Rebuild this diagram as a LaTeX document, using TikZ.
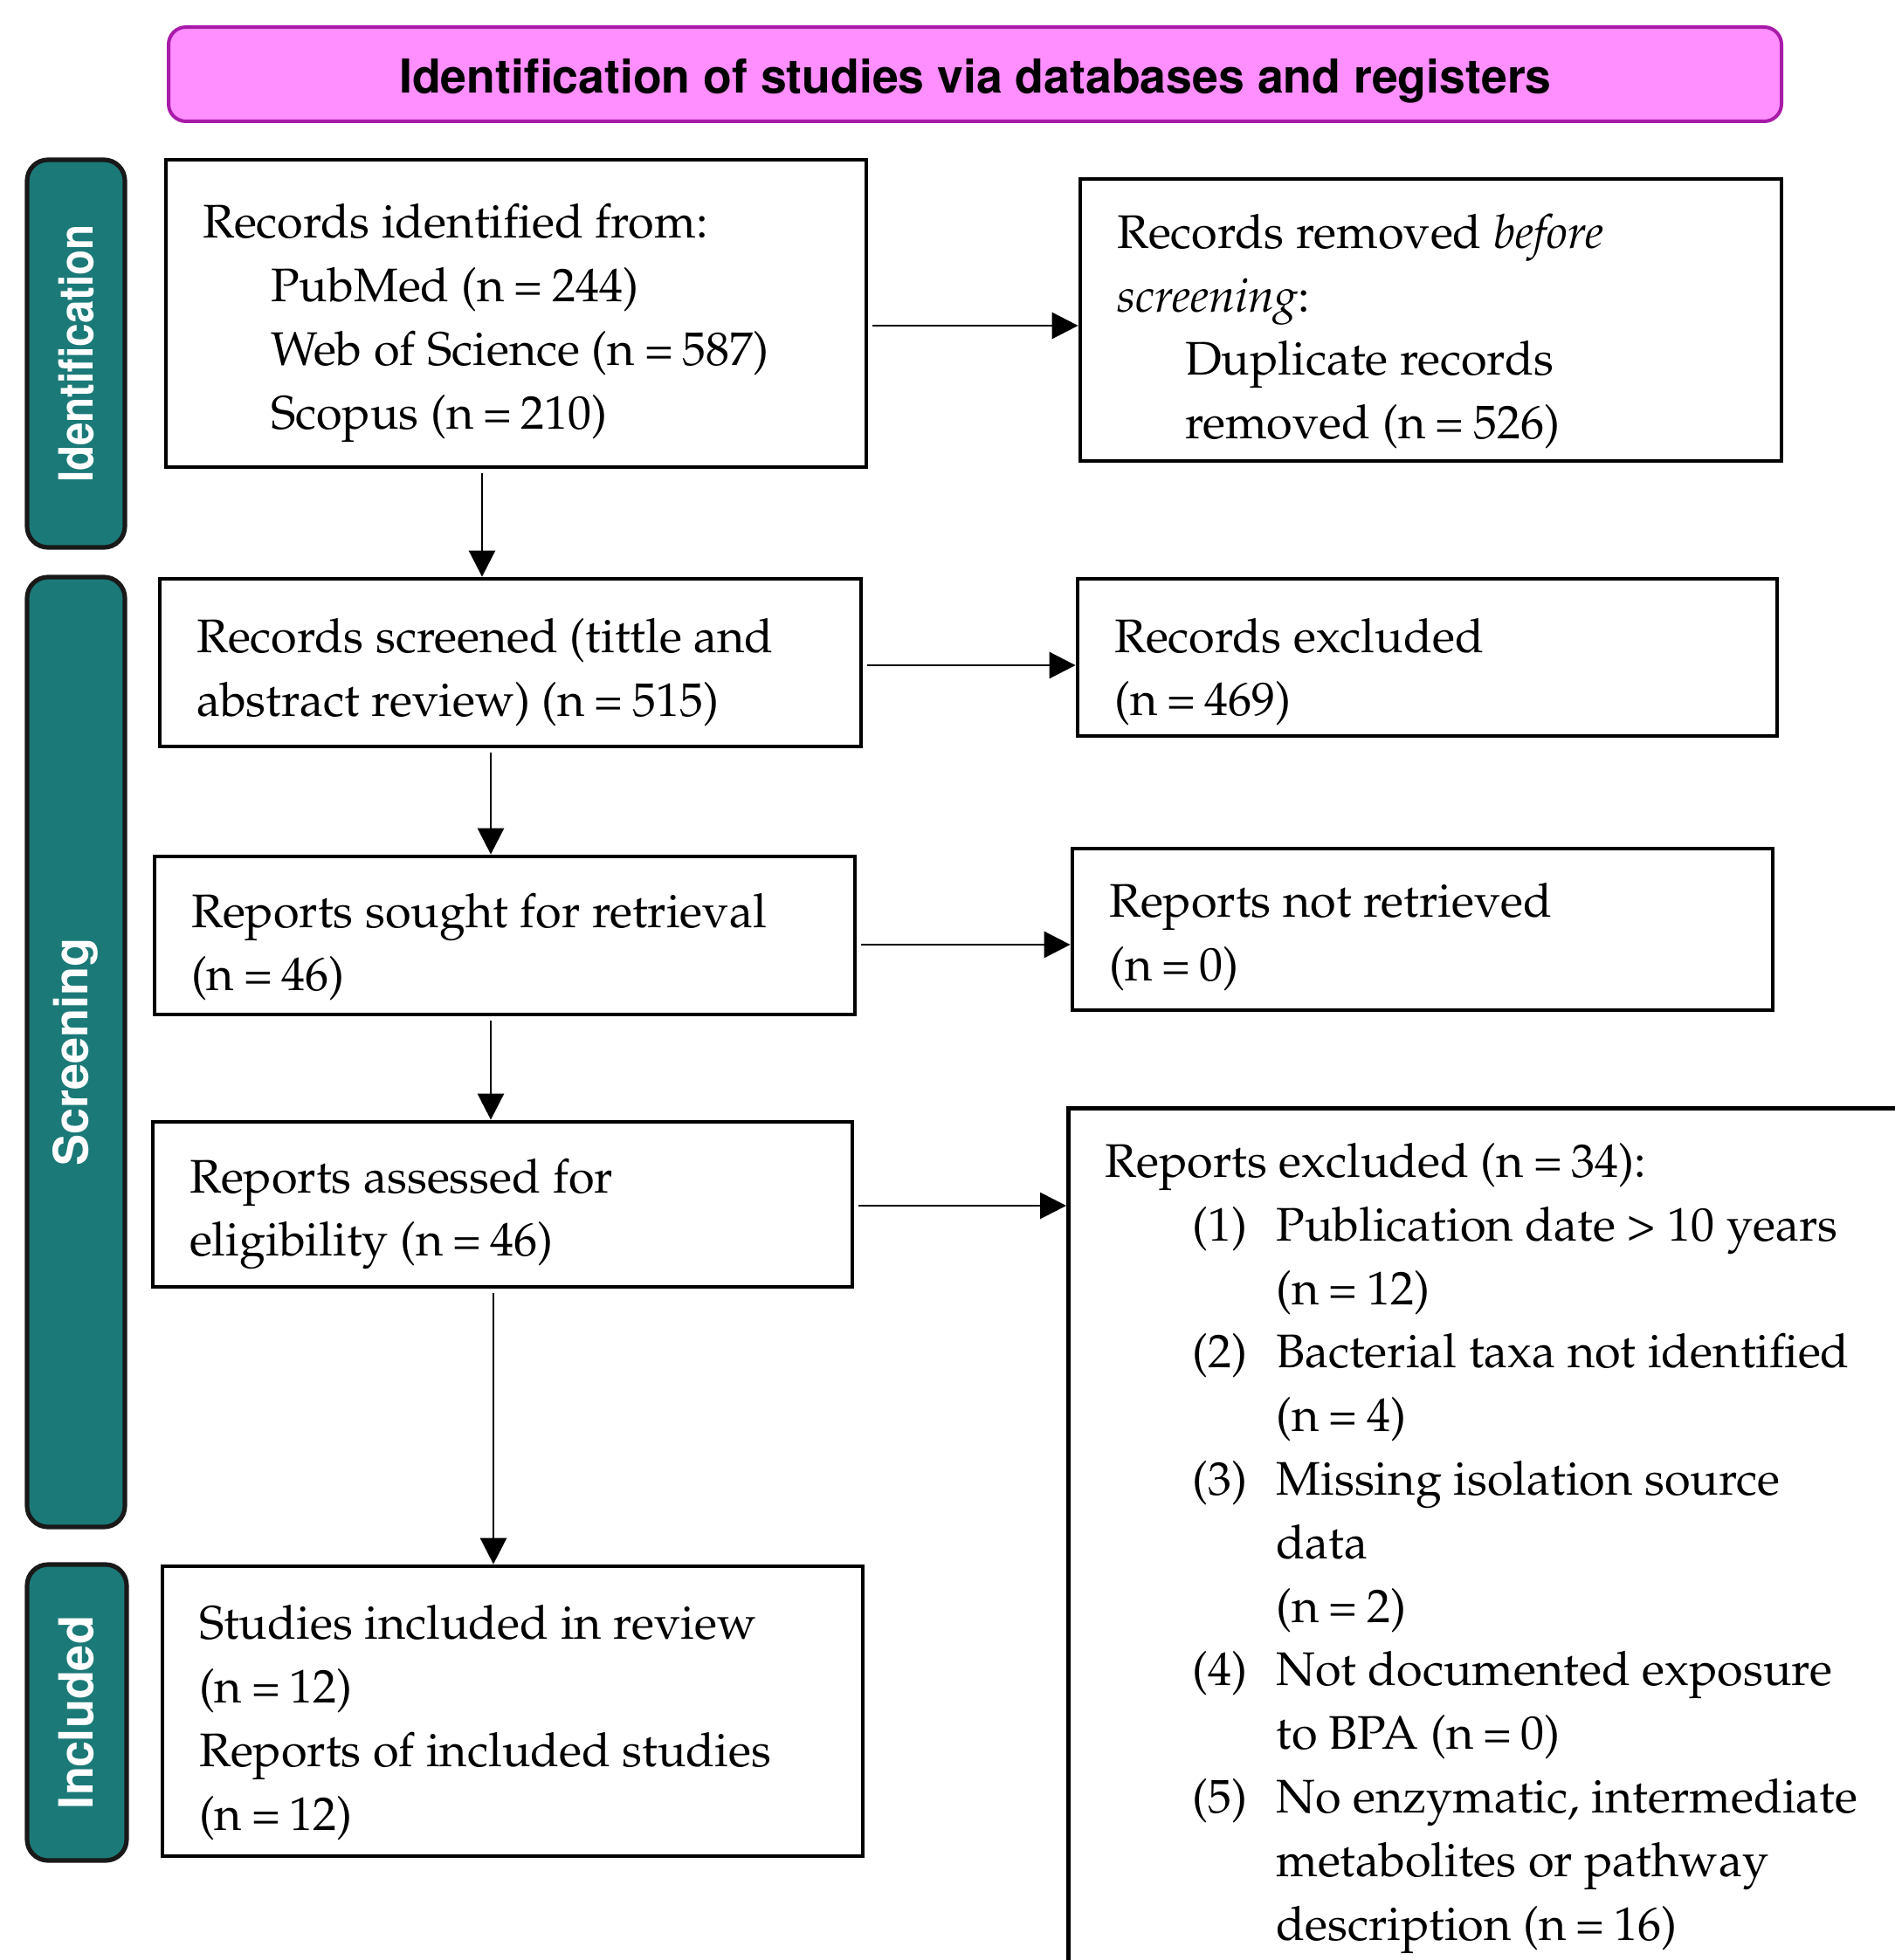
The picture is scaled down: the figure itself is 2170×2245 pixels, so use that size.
\documentclass[tikz,border=0pt]{standalone}
\usepackage[T1]{fontenc}
\usepackage{mathpazo}
\usepackage{helvet}
\usetikzlibrary{arrows.meta}
\definecolor{tealtab}{RGB}{27,122,120}
\definecolor{pinkfill}{RGB}{255,142,255}
\definecolor{purpleline}{RGB}{168,26,168}
\newcommand\bodyfont{\fontsize{13.5}{18.2}\selectfont}
\newcommand\tabfont{\sffamily\bfseries\fontsize{13.5}{16}\selectfont}
\newcommand\eq{\hspace{2.7pt}=\hspace{2.7pt}}
\newcommand\setsp{\spaceskip=0pt\xspaceskip=0pt\relax}
\newcommand\dn[1]{\setsp\rule{0pt}{#1}}
\tikzset{
  box/.style={draw=black, line width=1.2pt, fill=white, inner xsep=10.5pt, inner ysep=0pt, align=left, font=\bodyfont},
  tab/.style={draw=black!90, line width=1.3pt, fill=tealtab, rounded corners=6pt, rotate=90, text=white, font=\tabfont, inner sep=0pt},
  banner/.style={draw=purpleline, line width=1pt, fill=pinkfill, rounded corners=5pt, font=\sffamily\bfseries\fontsize{13.4}{16}\selectfont, inner sep=0pt},
  arr/.style={line width=0.7pt, -{Triangle[length=7.5pt,width=7.5pt]}, shorten <=1.25pt},
}
\begin{document}
\begin{tikzpicture}[x=0.25pt, y=-0.25pt]
\useasboundingbox (0,0) rectangle (2170,2245);
\fill[white] (0,0) rectangle (2170,2245);
\clip (0,0) rectangle (2170,2245);

% banner
\node[banner, minimum width=461.75pt, minimum height=27pt] (ban) at (1116.5,85)
  {\raisebox{-2.1pt}[\height][\depth]{Identification of studies via databases and registers}};

% side tabs
\node[tab, minimum width=111pt, minimum height=28pt] (tid) at (87,405) {\scalebox{0.88}[1]{Identification}};
\node[tab, minimum width=272pt, minimum height=28pt] (tsc) at (87,1205) {Screening};
\node[tab, minimum width=84.75pt, minimum height=28.5pt] (tin) at (88,1961.5) {Included};

% boxes
\node[box, text width=179.5pt, minimum height=88pt] (b1) at (591,359)
  {\dn{15.3pt}Records identified from:\\
   \hspace*{19.5pt}PubMed (n\eq 244)\\
   \hspace*{19.5pt}Web of Science (n\eq 587)\\
   \hspace*{19.5pt}Scopus (n\eq 210)};
\node[box, text width=179.75pt, minimum height=80.75pt] (b2) at (1638.5,366.5)
  {\dn{16.3pt}Records removed \textit{before}\\
   \textit{screening}:\\
   \hspace*{19.5pt}Duplicate records\\
   \hspace*{19.5pt}removed (n\eq 526)};
\node[box, text width=179.75pt, minimum height=48pt] (b3) at (584.5,759)
  {\dn{15.3pt}Records screened (tittle and\\ abstract review) (n\eq 515)};
\node[box, text width=179.25pt, minimum height=45pt] (b4) at (1634.5,753)
  {\dn{18.1pt}Records excluded\\ (n\eq 469)};
\node[box, text width=179.5pt, minimum height=45.25pt] (b5) at (578,1071.5)
  {\dn{16.3pt}Reports sought for retrieval\\ (n\eq 46)};
\node[box, text width=179.5pt, minimum height=46.25pt] (b6) at (1629,1064.5)
  {\dn{14.2pt}Reports not retrieved\\ (n\eq 0)};
\node[box, text width=179.25pt, minimum height=47.25pt] (b7) at (575.5,1379.5)
  {\dn{15.3pt}Reports assessed for\\ eligibility (n\eq 46)};
\node[box, text width=260pt, inner ysep=10pt, anchor=north west] (b8) at (1221,1267)
  {\setsp Reports excluded (n\eq 34):\\
   \hspace*{25pt}\makebox[24pt][l]{(1)}Publication date \textgreater{} 10 years\\
   \hspace*{49pt}(n\eq 12)\\
   \hspace*{25pt}\makebox[24pt][l]{(2)}Bacterial taxa not identified\\
   \hspace*{49pt}(n\eq 4)\\
   \hspace*{25pt}\makebox[24pt][l]{(3)}Missing isolation source\\
   \hspace*{49pt}data\\
   \hspace*{49pt}(n\eq 2)\\
   \hspace*{25pt}\makebox[24pt][l]{(4)}Not documented exposure\\
   \hspace*{49pt}to BPA (n\eq 0)\\
   \hspace*{25pt}\makebox[24pt][l]{(5)}No enzymatic, intermediate\\
   \hspace*{49pt}metabolites or pathway\\
   \hspace*{49pt}description (n\eq 16)\\[30pt]\mbox{}};
\node[box, text width=179.5pt, minimum height=83pt] (b9) at (587,1960)
  {\dn{16.3pt}Studies included in review\\ (n\eq 12)\\ Reports of included studies\\ (n\eq 12)};

% vertical arrows
\draw[arr] ([xshift=-9.75pt]b1.south) -- ([xshift=-9.75pt]b1.south |- b3.north);
\draw[arr] ([xshift=-5.625pt]b3.south) -- ([xshift=-5.625pt]b3.south |- b5.north);
\draw[arr] ([xshift=-4pt]b5.south) -- ([xshift=-4pt]b5.south |- b7.north);
\draw[arr] ([xshift=-2.625pt]b7.south) -- ([xshift=-2.625pt]b7.south |- b9.north);

% horizontal arrows
\draw[arr] ([yshift=-3.5pt]b1.east) -- ([yshift=-3.5pt]b1.east -| b2.west);
\draw[arr] ([yshift=-0.75pt]b3.east) -- ([yshift=-0.75pt]b3.east -| b4.west);
\draw[arr] ([yshift=-2.625pt]b5.east) -- ([yshift=-2.625pt]b5.east -| b6.west);
\draw[arr] ([yshift=-0.375pt]b7.east) -- ([yshift=-0.375pt]b7.east -| b8.west);
\end{tikzpicture}
\end{document}
